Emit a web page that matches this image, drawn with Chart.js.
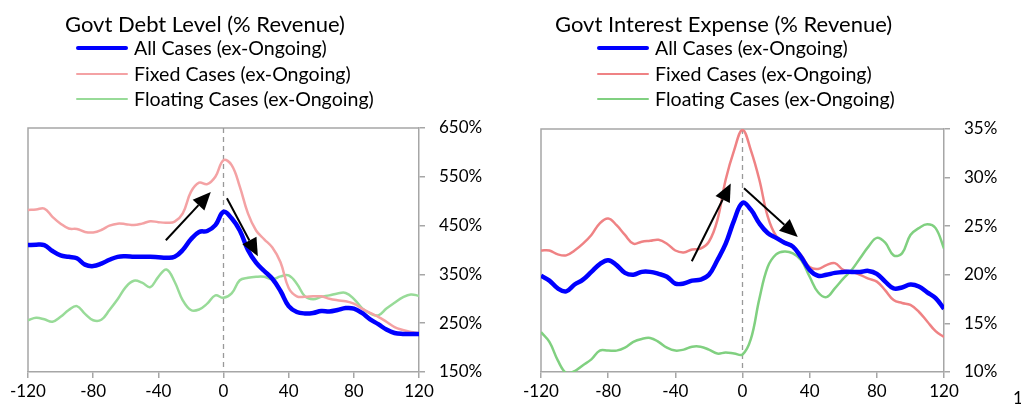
<!DOCTYPE html>
<html><head><meta charset="utf-8">
<script src="https://cdn.jsdelivr.net/npm/chart.js@4.4.1/dist/chart.umd.min.js"></script>
<style>
body{margin:0;background:#fff;width:1021px;height:409px;overflow:hidden;position:relative;font-family:Lato,"Noto Sans",sans-serif;color:#000;}
.title{position:absolute;font-size:22px;white-space:nowrap;line-height:24px;}
.leg{position:absolute;font-size:19.6px;white-space:nowrap;line-height:22px;}
.sw{position:absolute;}
canvas{position:absolute;left:0;top:0;}
.wrap{position:absolute;top:0;height:409px;}
</style></head>
<body>
<div class="wrap" style="left:0;width:510px"><canvas id="cL" width="510" height="409"></canvas></div>
<div class="wrap" style="left:510px;width:511px"><canvas id="cR" width="511" height="409"></canvas></div>
<div class="title" style="left:65px;top:12px">Govt Debt Level (% Revenue)</div>
<div class="title" style="left:555px;top:12px">Govt Interest Expense (% Revenue)</div>
<div id="legL"></div><div id="legR"></div>
<div style="position:absolute;left:1013px;top:388px;font-size:17px;line-height:20px">1</div>
<script>
// ---- data ----
const months = [-120,-115,-110,-105,-100,-95,-90,-85,-80,-75,-70,-65,-60,-55,-50,-45,-40,-35,-30,-25,-20,-15,-10,-5,0,5,10,15,20,25,30,35,40,45,50,55,60,65,70,75,80,85,90,95,100,105,110,115,120];
const seriesNames = ["All Cases (ex-Ongoing)","Fixed Cases (ex-Ongoing)","Floating Cases (ex-Ongoing)"];

const debtAll      = [410,411,410,398,389,386,383,370,367,372,380,386,387,386,386,386,385,384,386,400,422,437,439,451,478,465,440,400,374,357,341,316,285,273,270,271,275,274,277,281,280,271,258,248,237,230,228,228,228];
const debtFixed    = [482,483,485,468,454,444,443,437,436,441,450,454,453,451,454,459,457,456,458,475,519,538,535,550,584,574,530,475,440,422,405,375,322,305,304,305,305,300,297,295,290,280,271,263,253,242,236,232,230];
const debtFloating = [256,261,258,253,263,277,285,269,256,257,277,299,324,337,333,324,345,360,335,297,277,278,290,307,302,311,338,343,345,345,340,346,348,331,305,299,304,307,311,312,300,281,270,266,280,292,303,309,306];

const intAll      = [19.9,19.4,18.6,18.3,19.0,19.5,20.3,21.1,21.5,21.0,20.2,20.0,20.3,20.3,20.1,19.8,19.1,19.1,19.4,19.5,20.0,21.5,23.2,25.6,27.4,26.7,25.3,24.3,23.8,23.3,22.9,21.8,20.5,19.9,20.0,20.2,20.3,20.3,20.3,20.4,20.1,19.3,18.6,18.7,19.0,18.8,18.2,17.6,16.5];
const intFixed    = [22.5,22.5,22.1,22.0,22.5,23.2,24.1,25.3,25.8,25.1,24.1,23.2,23.4,23.5,23.6,23.2,22.5,22.3,22.6,22.7,23.4,25.6,29.8,32.8,34.9,32.8,29.8,26.0,24.0,23.4,22.9,22.0,20.8,20.6,21.0,21.2,20.5,20.3,20.0,19.6,19.3,18.4,17.4,17.1,16.9,16.2,15.2,14.2,13.6];
const intFloating = [14.1,13.1,11.2,9.9,10.1,10.7,11.3,12.2,12.2,12.2,12.5,13.1,13.4,13.5,13.1,12.5,12.2,12.3,12.6,12.6,12.3,11.9,12.0,11.9,11.8,13.4,17.5,20.8,22.1,22.4,22.2,21.5,19.8,18.2,17.7,18.6,19.6,20.5,21.7,22.9,23.8,23.3,22.0,22.2,24.1,24.8,25.2,24.8,22.7];

const debtTicks = [150,250,350,450,550,650];
const intTicks  = [10,15,20,25,30,35];
const xTicks    = [-120,-80,-40,0,40,80,120];

// arrows in data units: [x0,y0,x1,y1]
const debtArrows = [[-35.4,420,-7.8,519],[2.1,506,21.1,387]];
const intArrows  = [[-30.2,21.4,-7.0,29.4],[0.9,28.9,32.9,23.9]];

const AXIS = '#a6a6a6';
const FONT = {family:'Lato, "Noto Sans", sans-serif', size:17};

const framePlugin = {
  id:'frame',
  beforeDatasetsDraw(chart){
    const {ctx, chartArea:a, scales:{x}} = chart;
    ctx.save();
    ctx.strokeStyle = AXIS; ctx.lineWidth = 1.5;
    ctx.beginPath();
    ctx.moveTo(a.left, a.bottom); ctx.lineTo(a.left, a.top); ctx.lineTo(a.right, a.top);
    ctx.stroke();
    const zx = x.getPixelForValue(0);
    ctx.strokeStyle = '#999'; ctx.lineWidth = 1.3; ctx.setLineDash([5,4]);
    ctx.beginPath(); ctx.moveTo(zx, a.top); ctx.lineTo(zx, a.bottom); ctx.stroke();
    ctx.restore();
  },
  afterDatasetsDraw(chart, args, opts){
    const {ctx, scales:{x,y}} = chart;
    ctx.save();
    ctx.strokeStyle = '#000'; ctx.fillStyle = '#000'; ctx.lineWidth = 2;
    (opts.arrows||[]).forEach(([a,b,c,d])=>{
      const x0=x.getPixelForValue(a), y0=y.getPixelForValue(b), x1=x.getPixelForValue(c), y1=y.getPixelForValue(d);
      const ang = Math.atan2(y1-y0, x1-x0), L=18, W=8;
      const bx = x1 - L*Math.cos(ang), by = y1 - L*Math.sin(ang);
      ctx.beginPath(); ctx.moveTo(x0,y0); ctx.lineTo(bx,by); ctx.stroke();
      ctx.beginPath(); ctx.moveTo(x1,y1);
      ctx.lineTo(bx + W*Math.sin(ang), by - W*Math.cos(ang));
      ctx.lineTo(bx - W*Math.sin(ang), by + W*Math.cos(ang));
      ctx.closePath(); ctx.fill();
    });
    ctx.restore();
  }
};

function makeChart(id, series, colors, widths, yMin, yMax, yStep, pad, arrows){
  const datasets = series.map((s,i)=>({
    label: seriesNames[i],
    data: months.map((m,k)=>({x:m, y:s[k]})),
    borderColor: colors[i], borderWidth: widths[i],
    pointRadius:0, tension:0.4, fill:false
  }));
  return new Chart(document.getElementById(id), {
    type:'line',
    data:{datasets},
    options:{
      responsive:false, animation:false,
      layout:{padding:pad},
      plugins:{legend:{display:false}, tooltip:{enabled:false}, frame:{arrows}},
      scales:{
        x:{type:'linear', min:-120, max:120,
           afterBuildTicks(s){ s.ticks = xTicks.map(v=>({value:v})); },
           afterFit(s){ s.height = 37; },
           grid:{drawOnChartArea:false, drawTicks:true, tickLength:6, color:AXIS, lineWidth:1.5},
           border:{display:true, color:AXIS, width:1.5},
           ticks:{color:'#000', font:FONT, padding:3, maxRotation:0, autoSkip:false}},
        y:{type:'linear', position:'right', min:yMin, max:yMax,
           afterBuildTicks(s){ s.ticks = (yStep).map(v=>({value:v})); },
           afterFit(s){ s.width = 70; },
           grid:{drawOnChartArea:false, drawTicks:true, tickLength:6, color:AXIS, lineWidth:1.5},
           border:{display:true, color:AXIS, width:1.5},
           ticks:{color:'#000', font:FONT, padding:14, callback:v=>v+'%'}}
      }
    },
    plugins:[framePlugin]
  });
}

const colL = ['#0000ff','#f4a2a4','#98db98'];
const colR = ['#0000ff','#ef8284','#80d080'];
const wid  = [4.5,2.5,2.5];

makeChart('cL', [debtAll, debtFixed, debtFloating], colL, wid, 150, 650, debtTicks, {left:28, right:21, top:128, bottom:0}, debtArrows);
makeChart('cR', [intAll, intFixed, intFloating], colR, wid, 10, 35, intTicks, {left:31, right:7, top:129, bottom:0}, intArrows);

function legend(elId, left, cols){
  const el = document.getElementById(elId);
  const rows = [48,74,99];
  seriesNames.forEach((n,i)=>{
    const sw = document.createElement('div');
    sw.className='sw';
    sw.style.cssText = `left:${left}px;top:${rows[i]-wid[i]/2}px;width:52px;height:${wid[i]}px;background:${cols[i]};border-radius:2px`;
    el.appendChild(sw);
    const t = document.createElement('div');
    t.className='leg';
    t.style.cssText = `left:${left+58}px;top:${rows[i]-11}px`;
    t.textContent = n;
    el.appendChild(t);
  });
}
legend('legL', 76, colL);
legend('legR', 597, colR);
</script>
</body></html>
